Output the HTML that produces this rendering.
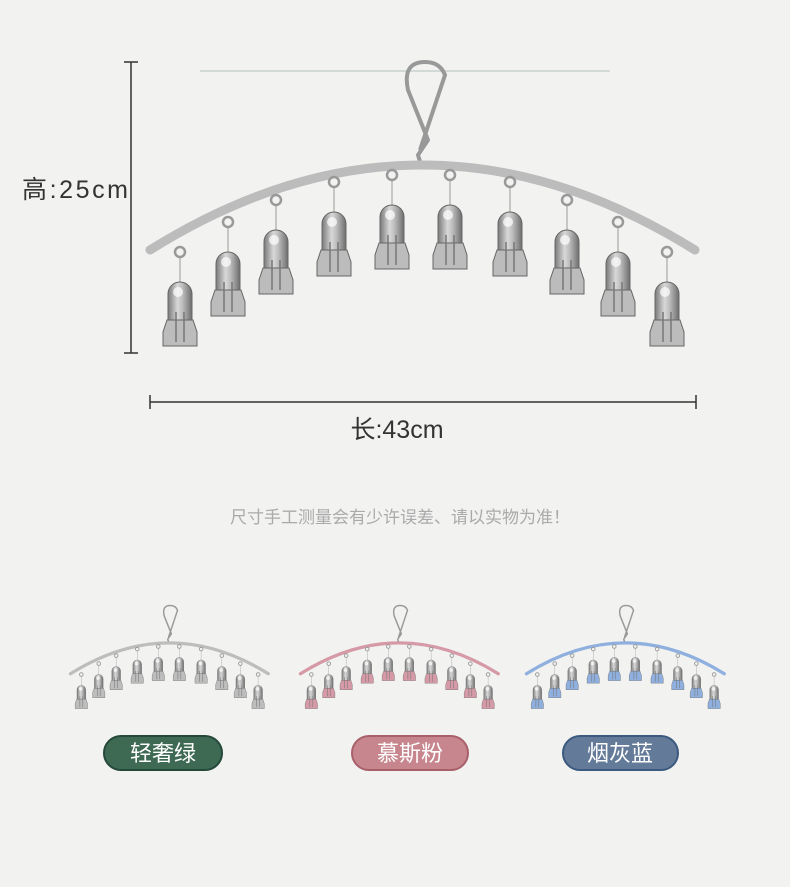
<!DOCTYPE html>
<html><head><meta charset="utf-8"><style>
body{margin:0;background:#f2f2f1;}
svg{display:block}
text{font-family:"Liberation Sans","Noto Sans CJK SC",sans-serif}
</style></head><body>
<svg width="790" height="887" viewBox="0 0 790 887" xmlns="http://www.w3.org/2000/svg">
<defs>
<linearGradient id="met" x1="0" x2="1"><stop offset="0" stop-color="#7a7a7a"/><stop offset="0.4" stop-color="#d8d8d8"/><stop offset="0.6" stop-color="#bdbdbd"/><stop offset="1" stop-color="#6e6e6e"/></linearGradient>
<g id="clip">
 <line x1="0" y1="-26" x2="0" y2="0" stroke="#999" stroke-width="1"/>
 <circle cx="0" cy="-30" r="5" fill="none" stroke="#999" stroke-width="2.5"/>
 <path d="M-12 38 V12 A12 12 0 0 1 12 12 V38 Z" fill="url(#met)" stroke="#666" stroke-width="1"/>
 <circle cx="-2" cy="10" r="5" fill="#fff" opacity="0.7"/>
 <path d="M-13 38 H13 L17 50 V64 H-17 V50 Z" fill="currentColor" stroke="#666" stroke-width="1"/>
 <line x1="-4" y1="30" x2="-4" y2="60" stroke="#777" stroke-width="1.5"/>
 <line x1="4" y1="30" x2="4" y2="60" stroke="#777" stroke-width="1.5"/>
</g>
<g id="hanger">
 <path d="M422 168 L418 155 L428 140 L408 90 Q402 62 425 62 Q440 62 445 75 L440 90 L420 150" fill="none" stroke="#999" stroke-width="4" stroke-linejoin="round"/>
 <path d="M150 250 Q422 80 695 250" fill="none" stroke="currentColor" stroke-width="9" stroke-linecap="round"/>
 <use href="#clip" x="180" y="282"/>
 <use href="#clip" x="228" y="252"/>
 <use href="#clip" x="276" y="230"/>
 <use href="#clip" x="334" y="212"/>
 <use href="#clip" x="392" y="205"/>
 <use href="#clip" x="450" y="205"/>
 <use href="#clip" x="510" y="212"/>
 <use href="#clip" x="567" y="230"/>
 <use href="#clip" x="618" y="252"/>
 <use href="#clip" x="667" y="282"/>
</g>
</defs>
<line x1="200" y1="71" x2="610" y2="71" stroke="#b8c4c0" stroke-width="1.5" opacity="0.7"/>
<g style="color:#bcbcbc"><use href="#hanger"/></g>
<line x1="131" y1="62" x2="131" y2="353" stroke="#333" stroke-width="1.5"/>
<line x1="124" y1="62" x2="138" y2="62" stroke="#333" stroke-width="1.5"/>
<line x1="124" y1="353" x2="138" y2="353" stroke="#333" stroke-width="1.5"/>
<line x1="150" y1="402" x2="696" y2="402" stroke="#333" stroke-width="1.5"/>
<line x1="150" y1="395" x2="150" y2="409" stroke="#333" stroke-width="1.5"/>
<line x1="696" y1="395" x2="696" y2="409" stroke="#333" stroke-width="1.5"/>
<text x="22" y="198" font-size="25" fill="#333" textLength="106">高:25cm</text>
<text x="397" y="438" font-size="25" fill="#333" text-anchor="middle">长:43cm</text>
<text x="400" y="523" font-size="17" fill="#aaa" text-anchor="middle">尺寸手工测量会有少许误差、请以实物为准！</text>
<g transform="translate(16,583) scale(0.363)" style="color:#bdbdbd"><use href="#hanger"/></g>
<g transform="translate(246,583) scale(0.363)" style="color:#d59aa6"><use href="#hanger"/></g>
<g transform="translate(472,583) scale(0.363)" style="color:#8fb0de"><use href="#hanger"/></g>
<rect x="104" y="736" width="118" height="34" rx="17" fill="#3e6a53" stroke="#24483a" stroke-width="2"/>
<text x="163" y="761" font-size="22" fill="#fff" text-anchor="middle">轻奢绿</text>
<rect x="352" y="736" width="116" height="34" rx="17" fill="#c7868e" stroke="#a8606a" stroke-width="2"/>
<text x="410" y="761" font-size="22" fill="#fff" text-anchor="middle">慕斯粉</text>
<rect x="563" y="736" width="115" height="34" rx="17" fill="#637a98" stroke="#3c5a80" stroke-width="2"/>
<text x="620" y="761" font-size="22" fill="#fff" text-anchor="middle">烟灰蓝</text>
</svg>
</body></html>
